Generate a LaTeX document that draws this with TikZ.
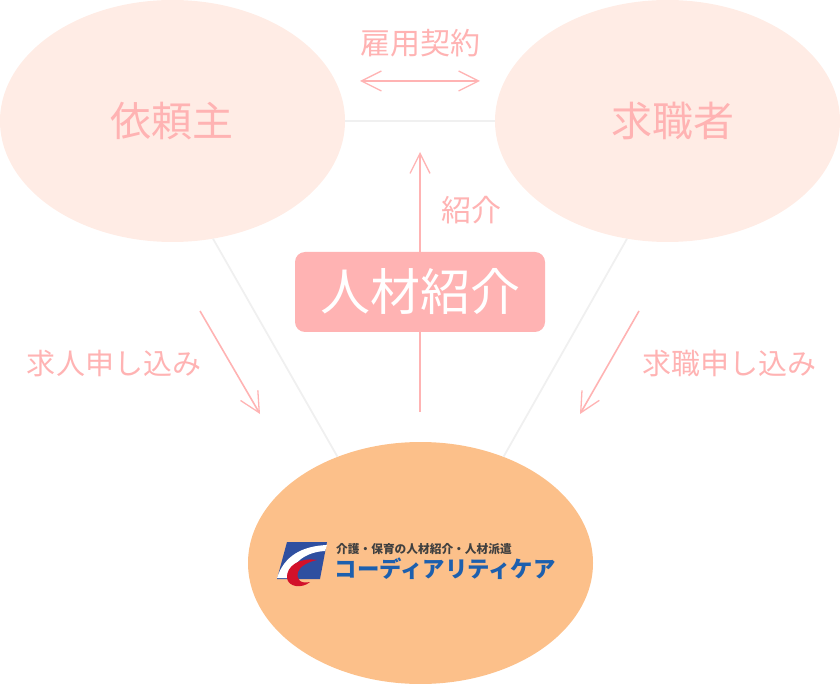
\documentclass[tikz,border=0pt]{standalone}
\usepackage{fontspec}
\setmainfont{Noto Sans CJK JP}
\usetikzlibrary{arrows.meta,shapes.geometric}
\definecolor{pale}{HTML}{FFECE5}
\definecolor{pinktext}{HTML}{FFB3B3}
\definecolor{orangeb}{HTML}{FCC08A}
\definecolor{grayline}{HTML}{F0F0F0}
\definecolor{logoblue}{HTML}{2F4FA0}
\definecolor{logotext}{HTML}{1C5FAE}
\definecolor{logored}{HTML}{D2112A}
\tikzset{
 party/.style={ellipse,fill=pale,minimum width=345pt,minimum height=242pt,inner sep=0pt},
 partytext/.style={text=pinktext,inner sep=0pt,font=\fontsize{41}{41}\selectfont},
 hub/.style={ellipse,fill=orangeb,minimum width=345pt,minimum height=242pt,inner sep=0pt},
 link/.style={draw=grayline,line width=1.8pt},
 flow/.style={draw=pinktext,line width=1.6pt,-{Straight Barb[length=20pt,width=20pt,line width=1.3pt]}},
 flowboth/.style={draw=pinktext,line width=1.6pt,{Straight Barb[length=20pt,width=20pt,line width=1.3pt]}-{Straight Barb[length=20pt,width=20pt,line width=1.3pt]}},
 lab/.style={text=pinktext,font=\fontsize{30}{30}\selectfont,inner sep=0pt},
 labwide/.style={text=pinktext,font=\fontsize{29}{29}\selectfont,inner sep=0pt},
}
\begin{document}
\begin{tikzpicture}[x=1pt,y=-1pt]
\useasboundingbox (0,0) rectangle (840,684);
\node[party] (client) at (172.5,121) {};
\node[party] (seeker) at (667.5,121) {};
\node[hub] (agency) at (420.5,563) {};
\node[partytext] (clientT) at (172,121) {依頼主};
\node[partytext] (seekerT) at (673,121) {求職者};
\draw[link] (client) -- (seeker);
\draw[link] (client.289) -- (agency.128);
\draw[link] (seeker.251) -- (agency.52);
\coordinate (a1s) at (360,81); \coordinate (a1e) at (480,81);
\draw[flowboth] (a1s) -- (a1e);
\node[lab] (contract) at (420,43) {雇用契約};
\node[lab] (intro) at (471,210) {紹介};
\coordinate (a2s) at (420,412); \coordinate (a2e) at (420,152);
\draw[flow] (a2s) -- (a2e);
\node[fill=pinktext,rounded corners=10pt,minimum width=250pt,minimum height=80pt,inner sep=0pt,text=white,font=\fontsize{50}{50}\selectfont] (badge) at (420,292) {人材紹介};
\coordinate (a3s) at (200,311); \coordinate (a3e) at (260,414);
\draw[flow] (a3s) -- (a3e);
\coordinate (a4s) at (639,311); \coordinate (a4e) at (580,414);
\draw[flow] (a4s) -- (a4e);
\node[labwide] (reqL) at (114,364) {求人申し込み};
\node[labwide] (reqR) at (729,364) {求職申し込み};
% logo
\fill[logoblue] (287,542) -- (327,542) -- (320,579) -- (277,579) -- cycle;
\fill[white] (277,578) .. controls (284,556) and (302,546) .. (327,545) -- (325,551) .. controls (306,552) and (293,562) .. (287,578) -- cycle;
\fill[logored] (317,560) .. controls (300,557) and (286,566) .. (287,578) .. controls (288,587) and (302,589) .. (310,582) .. controls (301,584) and (296,580) .. (298,572) .. controls (300,566) and (308,562) .. (317,560) -- cycle;
\node[inner sep=0pt,anchor=west,text=black!75,font=\fontsize{11.7}{11.7}\selectfont\bfseries] (tagline) at (336,549) {介護・保育の人材紹介・人材派遣};
\node[inner sep=0pt,anchor=west,text=logotext,font=\fontsize{22.4}{22.4}\selectfont\bfseries] (brand) at (334.5,569) {コーディアリティケア};
\end{tikzpicture}
\end{document}
